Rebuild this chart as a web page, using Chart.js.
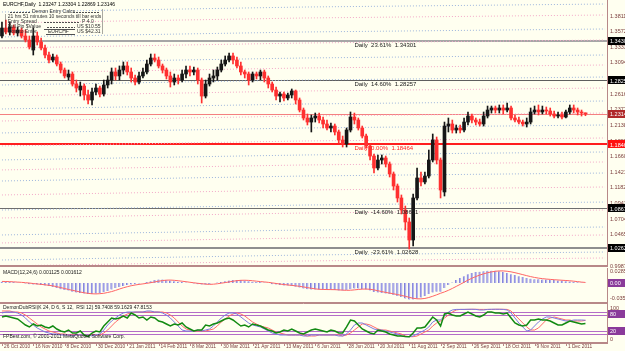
<!DOCTYPE html>
<html>
<head>
<meta charset="utf-8">
<script src="https://cdn.jsdelivr.net/npm/chart.js@4.4.1/dist/chart.umd.min.js"></script>
<style>
  html, body { margin: 0; padding: 0; background: #fffff0; }
  #wrap { position: relative; width: 625px; height: 351px; overflow: hidden; background: #fffff0; }
  #wrap canvas { position: absolute; left: 0; }
</style>
</head>
<body>
<div id="wrap">
  <canvas id="main" width="625" height="268" style="top:0"></canvas>
  <canvas id="macd" width="625" height="35" style="top:268px"></canvas>
  <canvas id="rsi" width="625" height="48" style="top:303px"></canvas>
</div>
<script>
// EURCHF daily, one candle per two sessions, 26 Oct 2010 .. 9 Dec 2011
const SLOTS = 155;

const opens = [
  1.3507,1.3629,1.3568,1.3644,1.3553,1.3598,1.3507,1.3445,1.3292,1.3507,
  1.3415,1.3323,1.3216,1.3139,1.3185,1.3078,1.2986,1.2879,1.2925,1.2772,
  1.2680,1.2741,1.2604,1.2527,1.2650,1.2711,1.2619,1.2757,1.2833,1.2956,
  1.2895,1.2986,1.3048,1.2956,1.2864,1.2803,1.2895,1.2956,1.3078,1.3170,
  1.3139,1.3048,1.2986,1.2895,1.2803,1.2864,1.2833,1.2925,1.2986,1.2956,
  1.2986,1.2833,1.2588,1.2772,1.2864,1.2895,1.2986,1.3078,1.3139,1.3201,
  1.3139,1.3048,1.2956,1.2925,1.2833,1.2925,1.2895,1.2956,1.2864,1.2772,
  1.2680,1.2588,1.2619,1.2558,1.2604,1.2665,1.2527,1.2374,1.2252,1.2190,
  1.2252,1.2282,1.2221,1.2160,1.2099,1.2129,1.2038,1.1915,1.1854,1.2068,
  1.2267,1.2221,1.2099,1.1976,1.1823,1.1670,1.1487,1.1609,1.1640,1.1548,
  1.1395,1.1211,1.1028,1.0844,1.0661,1.0385,1.1028,1.1334,1.1273,1.1364,
  1.1609,1.1915,1.1609,1.1120,1.2129,1.2160,1.2068,1.2099,1.2068,1.2190,
  1.2282,1.2221,1.2190,1.2160,1.2282,1.2374,1.2405,1.2374,1.2405,1.2374,
  1.2405,1.2252,1.2221,1.2190,1.2160,1.2190,1.2344,1.2374,1.2344,1.2374,
  1.2359,1.2313,1.2282,1.2298,1.2267,1.2344,1.2405,1.2374,1.2344,1.2325
];
const highs = [
  1.3721,1.3751,1.3721,1.3675,1.3644,1.3629,1.3598,1.3507,1.3629,1.3568,
  1.3476,1.3369,1.3262,1.3231,1.3216,1.3109,1.3017,1.2986,1.2956,1.2833,
  1.2803,1.2772,1.2680,1.2711,1.2772,1.2741,1.2833,1.2895,1.3017,1.3017,
  1.3048,1.3109,1.3109,1.3017,1.2910,1.2956,1.3017,1.3139,1.3231,1.3231,
  1.3185,1.3078,1.3017,1.2956,1.2925,1.2910,1.2986,1.3048,1.3048,1.3032,
  1.3017,1.2864,1.2833,1.2925,1.2986,1.3032,1.3139,1.3201,1.3247,1.3247,
  1.3185,1.3109,1.2986,1.2956,1.2956,1.2956,1.2986,1.2986,1.2895,1.2803,
  1.2726,1.2650,1.2650,1.2634,1.2696,1.2680,1.2558,1.2405,1.2313,1.2298,
  1.2328,1.2328,1.2267,1.2221,1.2175,1.2160,1.2068,1.1976,1.2099,1.2344,
  1.2328,1.2252,1.2129,1.2007,1.1854,1.1701,1.1686,1.1686,1.1670,1.1579,
  1.1426,1.1242,1.1074,1.0905,1.0722,1.1089,1.1487,1.1426,1.1426,1.1762,
  1.2007,1.1961,1.1640,1.2190,1.2252,1.2221,1.2145,1.2145,1.2252,1.2344,
  1.2313,1.2252,1.2236,1.2344,1.2435,1.2435,1.2435,1.2451,1.2451,1.2481,
  1.2435,1.2298,1.2267,1.2221,1.2252,1.2405,1.2435,1.2451,1.2435,1.2420,
  1.2405,1.2359,1.2344,1.2344,1.2374,1.2451,1.2451,1.2405,1.2374,1.2330
];
const lows = [
  1.3476,1.3537,1.3522,1.3522,1.3507,1.3476,1.3415,1.3308,1.3216,1.3369,
  1.3292,1.3170,1.3093,1.3109,1.3048,1.2940,1.2864,1.2833,1.2741,1.2650,
  1.2588,1.2527,1.2466,1.2451,1.2604,1.2573,1.2588,1.2711,1.2772,1.2833,
  1.2833,1.2925,1.2910,1.2803,1.2757,1.2772,1.2864,1.2925,1.3048,1.3109,
  1.3017,1.2940,1.2849,1.2726,1.2757,1.2772,1.2803,1.2864,1.2895,1.2910,
  1.2772,1.2481,1.2558,1.2741,1.2803,1.2833,1.2956,1.3048,1.3109,1.3078,
  1.3017,1.2910,1.2864,1.2757,1.2803,1.2849,1.2833,1.2803,1.2711,1.2650,
  1.2527,1.2497,1.2512,1.2527,1.2558,1.2466,1.2344,1.2221,1.2145,1.2038,
  1.2190,1.2175,1.2099,1.2068,1.2038,1.1992,1.1869,1.1808,1.1808,1.2038,
  1.2160,1.2068,1.1946,1.1793,1.1609,1.1410,1.1456,1.1548,1.1502,1.1349,
  1.1150,1.0966,1.0783,1.0538,1.0247,1.0293,1.0997,1.1211,1.1242,1.1334,
  1.1579,1.1548,1.1028,1.1058,1.2038,1.2022,1.2022,1.2022,1.2038,1.2145,
  1.2175,1.2145,1.2129,1.2129,1.2252,1.2328,1.2328,1.2328,1.2313,1.2344,
  1.2221,1.2190,1.2160,1.2129,1.2114,1.2160,1.2313,1.2298,1.2313,1.2313,
  1.2282,1.2252,1.2252,1.2236,1.2252,1.2313,1.2328,1.2298,1.2282,1.2287
];
const closes = [
  1.3629,1.3568,1.3644,1.3553,1.3598,1.3507,1.3445,1.3338,1.3507,1.3415,
  1.3323,1.3216,1.3139,1.3185,1.3078,1.2986,1.2895,1.2925,1.2772,1.2711,
  1.2741,1.2604,1.2527,1.2650,1.2711,1.2619,1.2757,1.2833,1.2956,1.2895,
  1.2986,1.3048,1.2956,1.2864,1.2803,1.2895,1.2956,1.3078,1.3170,1.3139,
  1.3048,1.2986,1.2895,1.2803,1.2864,1.2833,1.2925,1.2986,1.2956,1.2986,
  1.2833,1.2588,1.2772,1.2864,1.2895,1.2986,1.3078,1.3139,1.3201,1.3139,
  1.3048,1.2956,1.2925,1.2833,1.2925,1.2895,1.2956,1.2864,1.2772,1.2680,
  1.2588,1.2619,1.2558,1.2604,1.2665,1.2527,1.2374,1.2252,1.2190,1.2252,
  1.2282,1.2221,1.2160,1.2099,1.2129,1.2038,1.1915,1.1854,1.2068,1.2267,
  1.2221,1.2099,1.1976,1.1823,1.1670,1.1487,1.1609,1.1640,1.1548,1.1395,
  1.1211,1.1028,1.0844,1.0661,1.0385,1.1028,1.1334,1.1273,1.1364,1.1609,
  1.1915,1.1609,1.1150,1.2129,1.2160,1.2068,1.2099,1.2068,1.2190,1.2282,
  1.2221,1.2190,1.2160,1.2282,1.2374,1.2405,1.2374,1.2405,1.2374,1.2405,
  1.2252,1.2221,1.2190,1.2160,1.2190,1.2344,1.2374,1.2344,1.2374,1.2359,
  1.2313,1.2282,1.2298,1.2267,1.2344,1.2405,1.2374,1.2344,1.2328,1.2315
];

// fibo expansion levels and current price
const fibPrices = [1.34301, 1.28257, 1.18464, 1.08671, 1.02628];
const fibNames = ['Daily  23.61%', 'Daily  14.60%', 'Daily  0.00%', 'Daily  -14.60%', 'Daily  -23.61%'];
const lastPrice = 1.23146;
const priceTicks = [1.3811, 1.3572, 1.3333, 1.3094, 1.2616, 1.2377, 1.2138, 1.1899,
  1.1660, 1.1421, 1.1182, 1.0943, 1.0704, 1.0465, 0.9987];

// dotted envelope lines: price at bars 0, 77, 154
const bandKnots = [0, 77, 154];
const blueBands = [
  [1.3874, 1.3950, 1.3996], [1.3492, 1.3568, 1.3614], [1.3094, 1.3170, 1.3216],
  [1.2757, 1.2833, 1.2879], [1.2390, 1.2466, 1.2512], [1.2023, 1.2099, 1.2145],
  [1.1610, 1.1686, 1.1732], [1.1288, 1.1364, 1.1410], [1.0844, 1.0920, 1.0966],
  [1.0462, 1.0538, 1.0584], [1.0079, 1.0155, 1.0201]
];
const pinkBands = [
  [1.3706, 1.3782, 1.3828], [1.3323, 1.3399, 1.3445], [1.2941, 1.3017, 1.3063],
  [1.2589, 1.2665, 1.2711], [1.2206, 1.2282, 1.2328], [1.1824, 1.1900, 1.1946],
  [1.1457, 1.1533, 1.1579], [1.1074, 1.1150, 1.1196], [1.0722, 1.0798, 1.0844],
  [1.0340, 1.0416, 1.0462], [0.9988, 1.0064, 1.0110]
];

// MACD(12,24,6)
const macdMain = [
  0.0035,0.0035,0.0024,0.0024,0.0012,0.0000, -0.0012,-0.0024,-0.0035,-0.0035,-0.0047,-0.0059,
  -0.0071,-0.0094,-0.0118,-0.0142,-0.0165,-0.0177, -0.0201,-0.0224,-0.0236,-0.0248,-0.0260,-0.0260,
  -0.0248,-0.0236,-0.0212,-0.0189,-0.0153,-0.0118, -0.0094,-0.0071,-0.0047,-0.0035,-0.0024,-0.0012,
  0.0000,0.0024,0.0047,0.0071,0.0083,0.0083, 0.0071,0.0059,0.0047,0.0035,0.0024,0.0012,
  0.0000,-0.0012,-0.0024,-0.0035,-0.0035,-0.0024, 0.0000,0.0012,0.0024,0.0047,0.0059,0.0071,
  0.0071,0.0071,0.0059,0.0047,0.0035,0.0024, 0.0024,0.0012,0.0000,-0.0024,-0.0035,-0.0047,
  -0.0059,-0.0059,-0.0071,-0.0083,-0.0106,-0.0130, -0.0142,-0.0153,-0.0153,-0.0153,-0.0153,-0.0153,
  -0.0153,-0.0165,-0.0177,-0.0177,-0.0165,-0.0142, -0.0130,-0.0130,-0.0142,-0.0153,-0.0177,-0.0212,
  -0.0224,-0.0236,-0.0248,-0.0260,-0.0283,-0.0307, -0.0330,-0.0366,-0.0389,-0.0389,-0.0366,-0.0342,
  -0.0307,-0.0260,-0.0224,-0.0201,-0.0201,-0.0118, -0.0047,0.0012,0.0071,0.0118,0.0165,0.0212,
  0.0236,0.0260,0.0271,0.0283,0.0295,0.0295, 0.0295,0.0283,0.0260,0.0236,0.0212,0.0189,
  0.0165,0.0142,0.0118,0.0106,0.0094,0.0094, 0.0083,0.0083,0.0071,0.0071,0.0059,0.0059,
  0.0047,0.0040,0.0030,0.0022,0.0016,0.0011
];
const macdSignal = [
  0.0040,0.0038,0.0035,0.0030,0.0024,0.0018, 0.0010,0.0002,-0.0010,-0.0020,-0.0030,-0.0040,
  -0.0052,-0.0065,-0.0085,-0.0105,-0.0128,-0.0150, -0.0170,-0.0190,-0.0210,-0.0228,-0.0242,-0.0252,
  -0.0255,-0.0250,-0.0240,-0.0222,-0.0200,-0.0172, -0.0140,-0.0110,-0.0085,-0.0062,-0.0045,-0.0030,
  -0.0018,-0.0005,0.0010,0.0028,0.0045,0.0060, 0.0070,0.0072,0.0066,0.0056,0.0045,0.0033,
  0.0020,0.0008,-0.0004,-0.0014,-0.0024,-0.0030, -0.0025,-0.0015,-0.0002,0.0012,0.0028,0.0045,
  0.0058,0.0066,0.0068,0.0064,0.0056,0.0046, 0.0036,0.0028,0.0018,0.0006,-0.0008,-0.0022,
  -0.0034,-0.0044,-0.0054,-0.0064,-0.0076,-0.0090, -0.0106,-0.0122,-0.0136,-0.0146,-0.0150,-0.0152,
  -0.0153,-0.0155,-0.0160,-0.0166,-0.0170,-0.0168, -0.0160,-0.0150,-0.0142,-0.0140,-0.0146,-0.0160,
  -0.0180,-0.0200,-0.0220,-0.0236,-0.0252,-0.0270, -0.0290,-0.0312,-0.0336,-0.0358,-0.0370,-0.0372,
  -0.0362,-0.0340,-0.0310,-0.0276,-0.0240,-0.0208, -0.0170,-0.0126,-0.0078,-0.0030,0.0020,0.0070,
  0.0115,0.0155,0.0190,0.0220,0.0245,0.0265, 0.0280,0.0288,0.0288,0.0280,0.0266,0.0246,
  0.0224,0.0200,0.0176,0.0154,0.0134,0.0118, 0.0106,0.0096,0.0088,0.0080,0.0074,0.0068,
  0.0062,0.0055,0.0046,0.0035,0.0024,0.0016
];
const macdTicks = [0.02857, -0.03527];

// DemonDubRSI: RSI (green), stoch K (blue), stoch D (red)
const rsiLine = [
  71.2,74.7,71.2,67.6,64.1,53.5,42.8,35.8,46.4,39.3,
  42.8,35.8,32.2,39.3,28.7,21.6,18.1,25.1,14.5,14.5,
  21.6,7.4,2.0,14.5,21.6,18.1,39.3,53.5,67.6,64.1,
  67.6,74.7,67.6,85.3,78.2,67.6,71.2,60.5,71.2,67.6,
  57.0,53.5,46.4,39.3,46.4,42.8,49.9,35.8,28.7,21.6,
  25.1,25.1,42.8,39.3,46.4,49.9,57.0,64.1,67.6,60.5,
  49.9,39.3,42.8,35.8,46.4,42.8,39.3,32.2,25.1,21.6,
  14.5,18.1,25.1,21.6,28.7,21.6,14.5,11.0,18.1,25.1,
  28.7,25.1,21.6,18.1,25.1,21.6,14.5,14.5,35.8,60.5,
  57.0,42.8,28.7,21.6,14.5,11.0,25.1,21.6,18.1,11.0,
  7.4,3.9,3.9,2.0,1.0,14.5,32.2,32.2,35.8,53.5,
  71.2,60.5,39.3,81.8,85.3,78.2,74.7,74.7,81.8,88.8,
  81.8,74.7,71.2,78.2,88.8,88.8,85.3,85.3,81.8,85.3,
  67.6,49.9,42.8,39.3,42.8,60.5,60.5,64.1,60.5,60.5,
  57.0,49.9,42.8,42.8,49.9,57.0,53.5,49.9,46.4,47.8
];
const stochK = [
  85.3,88.8,88.8,88.8,85.3,78.2,67.6,53.5,42.8,32.2,
  25.1,18.1,14.5,11.0,11.0,7.4,7.4,7.4,3.9,7.4,
  7.4,7.4,7.4,3.9,7.4,11.0,25.1,42.8,57.0,67.6,
  78.2,85.3,88.8,88.8,88.8,88.8,88.8,92.4,92.4,88.8,
  88.8,85.3,78.2,67.6,53.5,39.3,25.1,21.6,21.6,21.6,
  25.1,21.6,25.1,28.7,39.3,53.5,67.6,78.2,85.3,85.3,
  81.8,71.2,60.5,49.9,42.8,39.3,35.8,28.7,21.6,14.5,
  11.0,7.4,7.4,7.4,7.4,7.4,7.4,3.9,3.9,7.4,
  7.4,7.4,7.4,7.4,7.4,7.4,3.9,3.9,11.0,25.1,
  42.8,49.9,49.9,42.8,35.8,28.7,25.1,25.1,21.6,18.1,
  14.5,11.0,3.9,1.5,1.5,3.9,11.0,18.1,25.1,35.8,
  53.5,60.5,60.5,74.7,88.8,95.9,98.0,98.0,98.0,98.5,
  98.5,98.0,95.9,95.9,98.0,98.5,98.5,98.5,98.0,95.9,
  85.3,67.6,49.9,35.8,21.6,25.1,39.3,53.5,64.1,71.2,
  71.2,67.6,64.1,60.5,57.0,57.0,60.5,60.5,60.5,59.7
];
const stochD = [
  92.4,92.4,92.4,88.8,88.8,85.3,78.2,67.6,57.0,46.4,
  35.8,28.7,21.6,18.1,14.5,11.0,11.0,7.4,7.4,7.4,
  7.4,7.4,7.4,7.4,7.4,7.4,14.5,25.1,39.3,53.5,
  64.1,74.7,81.8,85.3,88.8,88.8,88.8,88.8,88.8,88.8,
  88.8,88.8,85.3,78.2,67.6,53.5,39.3,28.7,25.1,21.6,
  21.6,21.6,21.6,25.1,28.7,39.3,53.5,64.1,74.7,81.8,
  85.3,81.8,74.7,64.1,53.5,46.4,39.3,35.8,32.2,25.1,
  18.1,14.5,11.0,7.4,7.4,7.4,7.4,7.4,3.9,3.9,
  3.9,7.4,7.4,7.4,7.4,7.4,7.4,3.9,7.4,14.5,
  25.1,35.8,46.4,46.4,42.8,35.8,28.7,25.1,25.1,21.6,
  18.1,14.5,11.0,3.9,1.5,1.5,3.9,11.0,18.1,25.1,
  39.3,49.9,57.0,67.6,78.2,88.8,95.9,98.0,98.0,98.0,
  98.5,98.5,98.0,98.0,98.0,98.0,98.5,98.5,98.5,98.0,
  92.4,78.2,64.1,49.9,35.8,25.1,25.1,32.2,46.4,60.5,
  67.6,71.2,67.6,64.1,60.5,60.5,57.0,57.0,57.0,59.2
];
const rsiLevels = [90, 80, 20, 10];

const dateIdx = [0, 8, 16, 24, 32, 40, 48, 56, 64, 72, 80, 88, 96, 104, 112, 120, 128, 136, 144];
const dateLabels = ['26 Oct 2010', '16 Nov 2010', '8 Dec 2010', '30 Dec 2010', '21 Jan 2011',
  '14 Feb 2011', '8 Mar 2011', '30 Mar 2011', '21 Apr 2011', '13 May 2011', '6 Jun 2011',
  '28 Jun 2011', '20 Jul 2011', '11 Aug 2011', '2 Sep 2011', '26 Sep 2011', '18 Oct 2011',
  '9 Nov 2011', '1 Dec 2011'];

// ---- styling ----
const FRAME = '#b88888';
const AXIS_TXT = '#7a3c3c';
const UP = '#161616';
const DOWN = '#ff3030';
const FIB_LINE = ['#a6a6a6', '#5e5e5e', '#ff1e1e', '#6e6e6e', '#8e8e8e'];
const FIB_W = [2, 1, 2, 1, 2];
const FIB_TXT = ['#202020', '#202020', '#ff1e1e', '#202020', '#202020'];
const FIB_BOX = ['#000000', '#000000', '#ff1010', '#000000', '#000000'];
const SANS = "'Liberation Sans', Arial, sans-serif";
const fibTextBar = 90;

const slotLabels = Array.from({ length: SLOTS }, (_, i) => i);

function sparse(vals) {
  const arr = new Array(SLOTS).fill(null);
  bandKnots.forEach((k, j) => { arr[k] = vals[j]; });
  return arr;
}

function rightAxis(min, max) {
  return {
    position: 'right', min, max,
    ticks: { display: false },
    grid: { display: false },
    border: { display: false },
    afterFit: s => { s.width = 18; }
  };
}

function baseOptions(padding, y) {
  return {
    responsive: false,
    devicePixelRatio: 1,
    animation: false,
    events: [],
    layout: { padding },
    plugins: { legend: { display: false }, tooltip: { enabled: false } },
    scales: { x: { display: false, offset: true }, y }
  };
}

function box(ctx, x, y, bg, text) {
  ctx.fillStyle = bg;
  ctx.fillRect(x, Math.round(y) - 4, 625 - x, 8);
  ctx.fillStyle = '#ffffff';
  ctx.fillText(text, x + 2, y + 0.5);
}

function frame(ctx, a, top) {
  ctx.strokeStyle = FRAME;
  ctx.lineWidth = 1;
  ctx.beginPath();
  ctx.moveTo(a.right + 0.5, top ? a.top - 1 : 0);
  ctx.lineTo(a.right + 0.5, a.bottom + 1);
  if (top) { ctx.moveTo(0, a.top - 0.5); ctx.lineTo(a.right, a.top - 0.5); }
  ctx.stroke();
  ctx.fillStyle = FRAME;
  ctx.fillRect(0, a.bottom, a.right + 1, 2);
}

const mainDeco = {
  id: 'mainDeco',
  beforeDatasetsDraw(chart) {
    const { ctx, chartArea: a, scales: { y } } = chart;
    ctx.save();
    fibPrices.forEach((p, i) => {
      const py = Math.round(y.getPixelForValue(p));
      ctx.fillStyle = FIB_LINE[i];
      ctx.fillRect(a.left, py - (FIB_W[i] > 1 ? 1 : 0), a.width, FIB_W[i]);
    });
    ctx.fillStyle = '#f48080';
    ctx.fillRect(a.left, Math.round(y.getPixelForValue(lastPrice)), a.width, 1);
    ctx.restore();
  },
  afterDraw(chart) {
    const { ctx, chartArea: a, scales: { x, y } } = chart;
    ctx.save();
    frame(ctx, a, false);

    ctx.textAlign = 'left';
    ctx.textBaseline = 'middle';

    // fibo captions
    ctx.font = `6px ${SANS}`;
    const fx = x.getPixelForValue(fibTextBar);
    fibPrices.forEach((p, i) => {
      ctx.fillStyle = FIB_TXT[i];
      ctx.fillText(`${fibNames[i]}  ${p.toFixed(5)}`, fx, y.getPixelForValue(p) + 4);
    });

    // price scale
    ctx.font = `5.5px ${SANS}`;
    ctx.fillStyle = AXIS_TXT;
    priceTicks.forEach(p => ctx.fillText(p.toFixed(5), a.right + 3, y.getPixelForValue(p)));
    fibPrices.forEach((p, i) => box(ctx, a.right + 1, y.getPixelForValue(p), FIB_BOX[i], p.toFixed(5)));
    box(ctx, a.right + 1, y.getPixelForValue(lastPrice), '#b02a2a', lastPrice.toFixed(5));

    // header and entry calculator
    ctx.font = `5px ${SANS}`;
    ctx.fillStyle = '#000000';
    ctx.fillText('EURCHF,Daily  1.23247 1.23304 1.22869 1.23146', 3, 5);
    ctx.fillStyle = '#303030';
    ctx.fillText('Demon Entry Calcs', 32, 12);
    ctx.fillText('| 21 hrs 51 minutes 10 seconds till bar ends', 5, 17);
    ctx.fillText('| Entry Spread', 5, 22);
    ctx.fillText('P 4.0', 82, 22);
    ctx.fillText('| Full Pip $Value', 5, 27);
    ctx.fillText('US $10.55', 77, 27);
    ctx.fillText('| Cost to Enter', 5, 32);
    ctx.fillText('EURCHF', 48, 32);
    ctx.fillText('US $42.31', 77, 32);
    [12, 17, 22, 27, 32].forEach(ty => ctx.fillText('|', 102, ty));
    ctx.strokeStyle = '#505050';
    ctx.lineWidth = 1;
    ctx.setLineDash([2, 1]);
    ctx.beginPath();
    ctx.moveTo(10, 12.5); ctx.lineTo(31, 12.5);
    ctx.moveTo(73, 12.5); ctx.lineTo(100, 12.5);
    ctx.moveTo(44, 22.5); ctx.lineTo(80, 22.5);
    ctx.moveTo(47, 27.5); ctx.lineTo(75, 27.5);
    ctx.stroke();
    ctx.setLineDash([]);
    ctx.beginPath();
    ctx.moveTo(44, 29.5); ctx.lineTo(75, 29.5);
    ctx.moveTo(46, 34.5); ctx.lineTo(75, 34.5);
    ctx.stroke();
    ctx.restore();
  }
};

const bandSets = [
  ...blueBands.map(v => ({ type: 'line', data: sparse(v), borderColor: '#9cb4dc' })),
  ...pinkBands.map(v => ({ type: 'line', data: sparse(v), borderColor: '#f2a8c8' }))
].map(d => Object.assign(d, {
  spanGaps: true, borderWidth: 1, borderDash: [1, 2], pointRadius: 0, order: 5
}));

const candleColor = c => (closes[c.dataIndex] >= opens[c.dataIndex] ? UP : DOWN);

new Chart(document.getElementById('main'), {
  type: 'bar',
  data: {
    labels: slotLabels,
    datasets: [
      ...bandSets,
      {
        data: lows.map((l, i) => [l, highs[i]]),
        backgroundColor: candleColor, barThickness: 1, grouped: false, order: 2
      },
      {
        data: opens.map((o, i) => [o, closes[i]]),
        backgroundColor: candleColor, barThickness: 3, minBarLength: 1, grouped: false, order: 1
      }
    ]
  },
  options: baseOptions({ top: 1, bottom: 3 }, rightAxis(1.00025, 1.40422)),
  plugins: [mainDeco]
});

// ---- MACD ----
const macdDeco = {
  id: 'macdDeco',
  afterDraw(chart) {
    const { ctx, chartArea: a, scales: { y } } = chart;
    ctx.save();
    frame(ctx, a, true);
    ctx.textAlign = 'left';
    ctx.textBaseline = 'middle';
    ctx.font = `5px ${SANS}`;
    ctx.fillStyle = '#202020';
    ctx.fillText('MACD(12,24,6) 0.001125 0.001612', 3, a.top + 5);
    ctx.font = `5.5px ${SANS}`;
    ctx.fillStyle = AXIS_TXT;
    macdTicks.forEach(v => ctx.fillText(v.toFixed(5), a.right + 3, y.getPixelForValue(v)));
    box(ctx, a.right + 1, y.getPixelForValue(macdMain[macdMain.length - 1]), '#8a3a9a', '0.00');
    ctx.restore();
  }
};

new Chart(document.getElementById('macd'), {
  type: 'bar',
  data: {
    labels: slotLabels,
    datasets: [
      {
        type: 'line', data: macdSignal, borderColor: '#ff6464', borderWidth: 1,
        pointRadius: 0, order: 0
      },
      {
        data: macdMain, backgroundColor: '#b4b4ee', borderColor: '#8080d8',
        borderWidth: { left: 1, right: 0, top: 0, bottom: 0 }, barThickness: 2, order: 1
      }
    ]
  },
  options: baseOptions({ top: 0, bottom: 1 }, rightAxis(-0.0446, 0.0357)),
  plugins: [macdDeco]
});

// ---- RSI ----
const rsiDeco = {
  id: 'rsiDeco',
  beforeDatasetsDraw(chart) {
    const { ctx, chartArea: a, scales: { y } } = chart;
    ctx.save();
    ctx.fillStyle = '#b46cc8';
    rsiLevels.forEach(v => ctx.fillRect(a.left, Math.round(y.getPixelForValue(v)), a.width, 1));
    ctx.restore();
  },
  afterDraw(chart) {
    const { ctx, chartArea: a, scales: { x, y } } = chart;
    ctx.save();
    frame(ctx, a, true);
    ctx.textAlign = 'left';
    ctx.textBaseline = 'middle';
    ctx.font = `5px ${SANS}`;
    ctx.fillStyle = '#202020';
    ctx.fillText('DemonDubRSI(K 24, D 6, S 12,  RSI 12) 59.7408 59.1629 47.8153', 3, a.top + 4);
    ctx.fillText('FPBest.com, \u00a9 2001-2011 MetaQuotes Software Corp.', 3, a.bottom - 5);

    ctx.font = `5.5px ${SANS}`;
    ctx.fillStyle = AXIS_TXT;
    ctx.fillText('100', a.right + 3, y.getPixelForValue(100));
    ctx.fillText('0', a.right + 3, y.getPixelForValue(0) + 2);
    box(ctx, a.right + 1, y.getPixelForValue(82), '#8a3a9a', '80');
    box(ctx, a.right + 1, y.getPixelForValue(20), '#8a3a9a', '20');

    // time axis
    ctx.strokeStyle = FRAME;
    ctx.beginPath();
    dateIdx.forEach(i => {
      const px = Math.round(x.getPixelForValue(i)) + 0.5;
      ctx.moveTo(px, a.bottom + 2);
      ctx.lineTo(px, a.bottom + 4);
    });
    ctx.stroke();
    ctx.font = `4.8px ${SANS}`;
    ctx.fillStyle = AXIS_TXT;
    dateIdx.forEach((i, k) => ctx.fillText(dateLabels[k], x.getPixelForValue(i) + 2, a.bottom + 5));
    ctx.restore();
  }
};

new Chart(document.getElementById('rsi'), {
  type: 'line',
  data: {
    labels: slotLabels,
    datasets: [
      { data: stochD, borderColor: '#ff6a6a', borderWidth: 1, pointRadius: 0, order: 2 },
      { data: stochK, borderColor: '#7a7ae0', borderWidth: 1, pointRadius: 0, order: 1 },
      { data: rsiLine, borderColor: '#128a12', borderWidth: 1.5, pointRadius: 0, order: 0 }
    ]
  },
  options: baseOptions({ top: 1, bottom: 9 }, rightAxis(-17.35, 117.17)),
  plugins: [rsiDeco]
});
</script>
</body>
</html>
